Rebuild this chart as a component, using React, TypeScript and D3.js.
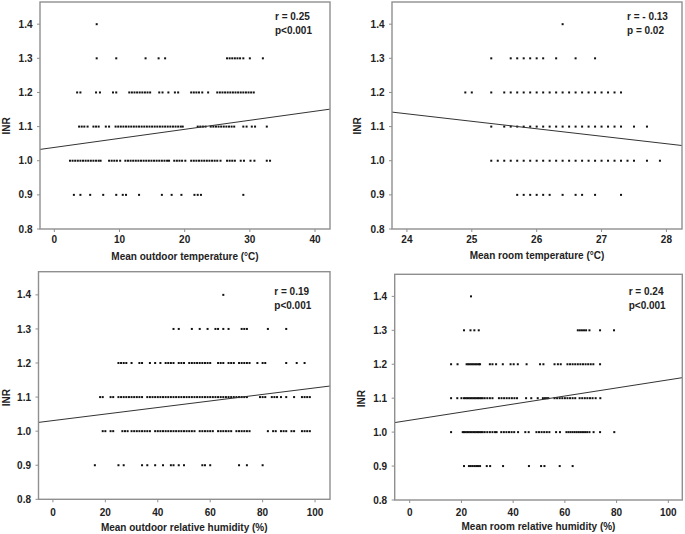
import React from "react";
import * as d3 from "d3";

// ---------- data (INR level, x values of the points at that level) ----------
const inrLevels = [1.4, 1.3, 1.2, 1.1, 1.0, 0.9];
const yTicks = [0.8, 0.9, 1.0, 1.1, 1.2, 1.3, 1.4];

const outdoorTempRows: [number, number[]][] = [
  [1.4, [6.5]],
  [1.3, [6.5, 9.5, 14, 16, 17, 26.5, 26.9, 27.3, 27.7, 28.1, 28.5, 29, 30, 32]],
  [1.2, [3.5, 4, 6.4, 7, 9, 9.5, 11.5, 11.9, 12.3, 12.7, 13.1, 13.5, 13.9, 14.3, 14.7, 16.1, 16.6, 17.5, 18.5, 19, 21, 21.4, 21.8, 22.2, 22.7, 23.6, 25, 25.4, 25.8, 26.2, 26.6, 27, 27.4, 27.8, 28.2, 28.6, 29, 29.4, 29.8, 30.2, 30.6]],
  [1.1, [3.8, 4.2, 4.6, 5.1, 6, 6.4, 6.8, 7.9, 8.4, 9.4, 9.8, 10.2, 10.6, 11, 11.4, 11.8, 12.2, 12.6, 13, 13.4, 13.8, 14.2, 14.6, 15, 15.4, 15.8, 16.2, 16.6, 17, 17.4, 17.8, 18.2, 18.6, 19, 19.4, 19.7, 22, 22.4, 22.8, 23.2, 24, 24.4, 24.8, 25.2, 25.6, 26, 26.4, 26.8, 27.2, 27.6, 29, 29.5, 30.3, 30.8, 32.6]],
  [1.0, [2.4, 2.8, 3.2, 3.6, 4, 4.4, 4.8, 5.2, 5.6, 6, 6.4, 6.8, 7.1, 8.4, 8.8, 9.2, 9.6, 10.1, 10.9, 11.3, 11.7, 12.1, 12.5, 12.9, 13.3, 13.7, 14.1, 14.5, 14.9, 15.3, 15.7, 16.1, 16.5, 16.9, 17.3, 17.6, 18.4, 18.8, 19.2, 19.6, 20.1, 21, 21.4, 21.8, 22.2, 22.6, 23, 23.4, 23.8, 24.2, 24.6, 25, 25.5, 26.5, 26.9, 27.3, 27.7, 28.6, 29.1, 30.1, 30.7, 32.6, 33.1]],
  [0.9, [3, 4, 5.5, 7.5, 9.5, 10.5, 11, 13, 16.5, 18, 19.5, 21.5, 22, 22.5, 29]],
];

const roomTempRows: [number, number[]][] = [
  [1.4, [26.4]],
  [1.3, [25.3, 25.6, 25.7, 25.8, 25.9, 26.0, 26.1, 26.3, 26.6, 26.9]],
  [1.2, [24.9, 25.0, 25.3, 25.5, 25.6, 25.7, 25.8, 25.9, 26.0, 26.1, 26.2, 26.3, 26.4, 26.5, 26.6, 26.7, 26.8, 26.9, 27.0, 27.1, 27.2, 27.3]],
  [1.1, [25.3, 25.5, 25.6, 25.7, 25.8, 25.9, 26.0, 26.1, 26.2, 26.3, 26.4, 26.5, 26.6, 26.7, 26.8, 26.9, 27.0, 27.1, 27.2, 27.3, 27.5, 27.7]],
  [1.0, [25.3, 25.4, 25.5, 25.6, 25.7, 25.8, 25.9, 26.0, 26.1, 26.2, 26.3, 26.4, 26.5, 26.6, 26.7, 26.8, 26.9, 27.0, 27.1, 27.2, 27.3, 27.4, 27.5, 27.7, 27.9]],
  [0.9, [25.7, 25.8, 25.9, 26.0, 26.1, 26.2, 26.4, 26.6, 26.7, 26.9, 27.3]],
];

const outdoorHumRows: [number, number[]][] = [
  [1.4, [65]],
  [1.3, [46, 48, 53, 56, 59, 62, 63, 65, 67, 72, 73, 74, 82, 89]],
  [1.2, [25, 26, 27, 28, 30, 33, 34, 37, 39, 41, 43, 44, 45, 46, 48, 49, 50, 52, 53, 54, 55, 56, 57, 58, 59, 60, 63, 64, 65, 67, 68, 69, 71, 72, 73, 74, 75, 78, 80, 81, 89, 93, 96]],
  [1.1, [18, 19, 22, 23, 25, 26, 27, 28, 29, 30, 31, 32, 33, 34, 36, 37, 38, 39, 40, 41, 42, 43, 44, 45, 46, 47, 48, 49, 50, 51, 52, 53, 54, 55, 56, 57, 58, 59, 60, 61, 62, 63, 64, 65, 66, 67, 68, 69, 70, 71, 72, 73, 74, 79, 80, 81, 83.5, 84.5, 85.5, 87, 89, 92, 95, 96, 97, 98]],
  [1.0, [19, 20, 22, 23, 26.5, 27.5, 28.5, 30, 31, 32, 33, 34, 35, 36, 37, 39, 40, 41, 42, 43, 44, 45, 46, 47, 48, 49, 50, 51, 52, 53, 54, 56, 57, 58, 59, 60, 61, 63, 64, 65, 66, 67, 68, 70, 71, 72, 73, 74, 75, 82, 84, 85, 87, 88, 89, 91, 92, 95, 96, 97, 98]],
  [0.9, [16, 25, 27, 34, 36, 39, 42, 45, 46, 48, 50, 57, 58, 60, 71, 74, 80]],
];

const roomHumRows: [number, number[]][] = [
  [1.4, [23.7]],
  [1.3, [21, 23.5, 25, 26.7, 65, 65.8, 66.6, 67.4, 68.2, 69.5, 73.6, 79]],
  [1.2, [16, 18.5, 22, 22.6, 23.2, 23.8, 24.4, 25, 25.6, 26.2, 26.8, 27.2, 31, 32, 33.4, 36, 39, 40.2, 41.8, 45.2, 50.4, 51.7, 56, 57.3, 58.4, 61, 62, 63, 64, 65, 66, 67, 68, 69, 70, 71, 73.6]],
  [1.1, [16, 18.4, 20, 21, 21.6, 22.2, 22.8, 23.4, 24, 24.6, 25.2, 25.8, 26.4, 27, 27.6, 28.2, 29, 30, 31, 32, 34.5, 35.5, 36.5, 37.5, 38.5, 39.5, 40.5, 41.5, 45, 47, 49.5, 51.5, 52.3, 53, 53.6, 56, 57, 58, 59, 60, 61, 62, 63, 64, 65.7, 66.7, 67.7, 68.7, 69.7, 70.7, 71.9, 73.7]],
  [1.0, [16, 20.5, 21, 21.6, 22.2, 22.8, 23.4, 24, 24.6, 25.2, 25.8, 26.4, 27, 27.6, 28.2, 29, 30, 31, 32, 33, 33.6, 35.4, 36.4, 37.4, 38.4, 39.4, 40.4, 41.9, 44.7, 46, 49, 50, 51, 52, 53, 54, 56.6, 58.1, 60.6, 61.4, 62.2, 63, 63.8, 64.6, 65.4, 66.2, 67, 67.8, 68.6, 69.5, 71.1, 73.6, 79.1]],
  [0.9, [21, 22.9, 23.6, 24.3, 25, 25.7, 26.4, 27.2, 29.8, 31.1, 36.1, 46.1, 50.8, 52.1, 58, 63]],
];

// regression lines: [intercept, slope]
const outdoorTempFit = [1.039, 0.00265];
const roomTempFit = [1.663, -0.0219];
const outdoorHumFit = [1.031, 0.00096];
const roomHumFit = [1.035, 0.00119];

const outdoorTempTicks = [0, 10, 20, 30, 40];
const roomTempTicks = [24, 25, 26, 27, 28];
const humTicks = [0, 20, 40, 60, 80, 100];

const titles = [
  "Mean outdoor temperature (°C)",
  "Mean room temperature (°C)",
  "Mean outdoor relative humidity (%)",
  "Mean room relative humidity (%)",
];
const rLabels = ["r = 0.25", "r = - 0.13", "r = 0.19", "r = 0.24"];
const pLabels = ["p<0.001", "p = 0.02", "p<0.001", "p<0.001"];

// ---------- layout ----------
type Panel = {
  rows: [number, number[]][];
  fit: number[];
  xTicks: number[];
  xDom: [number, number];
  xRange: [number, number];
  yDom: [number, number];
  yRange: [number, number];
  tickBase: number;
  titleBase: number;
  inrX: number;
  inrY: number;
  annX: number;
  annY: number;
};

const panels: Panel[] = [
  { rows: outdoorTempRows, fit: outdoorTempFit, xTicks: outdoorTempTicks, xDom: [-2.2, 42.3], xRange: [40, 330], yDom: [0.8, 1.465], yRange: [229, 2], tickBase: 242.5, titleBase: 259.5, inrX: 10.3, inrY: 126, annX: 275, annY: 19.6 },
  { rows: roomTempRows, fit: roomTempFit, xTicks: roomTempTicks, xDom: [23.77, 28.24], xRange: [392, 682], yDom: [0.8, 1.465], yRange: [229, 2], tickBase: 242.5, titleBase: 259.3, inrX: 360.6, inrY: 126, annX: 627, annY: 19.6 },
  { rows: outdoorHumRows, fit: outdoorHumFit, xTicks: humTicks, xDom: [-5.5, 105.7], xRange: [38.5, 330], yDom: [0.8, 1.468], yRange: [499.3, 271.7], tickBase: 515.5, titleBase: 530.5, inrX: 9.6, inrY: 397.7, annX: 274.3, annY: 294.6 },
  { rows: roomHumRows, fit: roomHumFit, xTicks: humTicks, xDom: [-5.8, 105.4], xRange: [394.7, 682.3], yDom: [0.8, 1.465], yRange: [500, 274.3], tickBase: 515.5, titleBase: 530, inrX: 365.3, inrY: 398.7, annX: 628.7, annY: 295 },
];

const FONT = "'Liberation Sans', Arial, sans-serif";
const TXT = "#222";
const AXIS = "#8f8f8f";
const fmt = d3.format(".1f");

function PanelView({ p, i }: { p: Panel; i: number }) {
  const x = d3.scaleLinear().domain(p.xDom).range(p.xRange);
  const y = d3.scaleLinear().domain(p.yDom).range(p.yRange);
  const [x0, x1] = p.xRange;
  const [yb, yt] = p.yRange;
  const line = d3
    .line<number>()
    .x((d) => x(d))
    .y((d) => y(p.fit[0] + p.fit[1] * d));
  const clipId = `clip${i}`;
  return (
    <g>
      <defs>
        <clipPath id={clipId}>
          <rect x={x0} y={yt} width={x1 - x0} height={yb - yt} />
        </clipPath>
      </defs>
      {/* points */}
      <g fill="#111">
        {p.rows.map(([lvl, xs]) =>
          xs.map((v, k) => (
            <rect key={`${lvl}-${k}`} x={x(v) - 1} y={y(lvl) - 1} width={2} height={2} />
          ))
        )}
      </g>
      {/* regression line */}
      <path d={line(p.xDom) || ""} stroke="#333" strokeWidth={1} fill="none" clipPath={`url(#${clipId})`} />
      {/* frame */}
      <rect x={x0} y={yt} width={x1 - x0} height={yb - yt} fill="none" stroke={AXIS} strokeWidth={1.4} />
      {/* y ticks */}
      {yTicks.map((t) => (
        <g key={`y${t}`}>
          <line x1={x0 - 3} x2={x0} y1={y(t)} y2={y(t)} stroke={AXIS} strokeWidth={1} />
          <text x={x0 - 7.5} y={y(t) + 3.6} textAnchor="end" fontSize={10} fontWeight="bold" fill={TXT} fontFamily={FONT}>
            {fmt(t)}
          </text>
        </g>
      ))}
      {/* x ticks */}
      {p.xTicks.map((t) => (
        <g key={`x${t}`}>
          <line x1={x(t)} x2={x(t)} y1={yb} y2={yb + 3} stroke={AXIS} strokeWidth={1} />
          <text x={x(t)} y={p.tickBase} textAnchor="middle" fontSize={10} fontWeight="bold" fill={TXT} fontFamily={FONT}>
            {t}
          </text>
        </g>
      ))}
      <text x={(x0 + x1) / 2} y={p.titleBase} textAnchor="middle" fontSize={10} fontWeight="bold" fill={TXT} fontFamily={FONT}>
        {titles[i]}
      </text>
      <text transform={`translate(${p.inrX},${p.inrY}) rotate(-90)`} textAnchor="middle" fontSize={10} fontWeight="bold" fill={TXT} fontFamily={FONT}>
        INR
      </text>
      <text x={p.annX} y={p.annY} fontSize={10} fontWeight="bold" fill={TXT} fontFamily={FONT}>
        {rLabels[i]}
      </text>
      <text x={p.annX} y={p.annY + 14} fontSize={10} fontWeight="bold" fill={TXT} fontFamily={FONT}>
        {pLabels[i]}
      </text>
    </g>
  );
}

export default function App() {
  return (
    <svg
      width={685}
      height={534}
      style={{ position: "absolute", left: 0, top: 0, background: "#fff" }}
    >
      <rect width={685} height={534} fill="#fff" />
      {panels.map((p, i) => (
        <PanelView key={i} p={p} i={i} />
      ))}
    </svg>
  );
}
